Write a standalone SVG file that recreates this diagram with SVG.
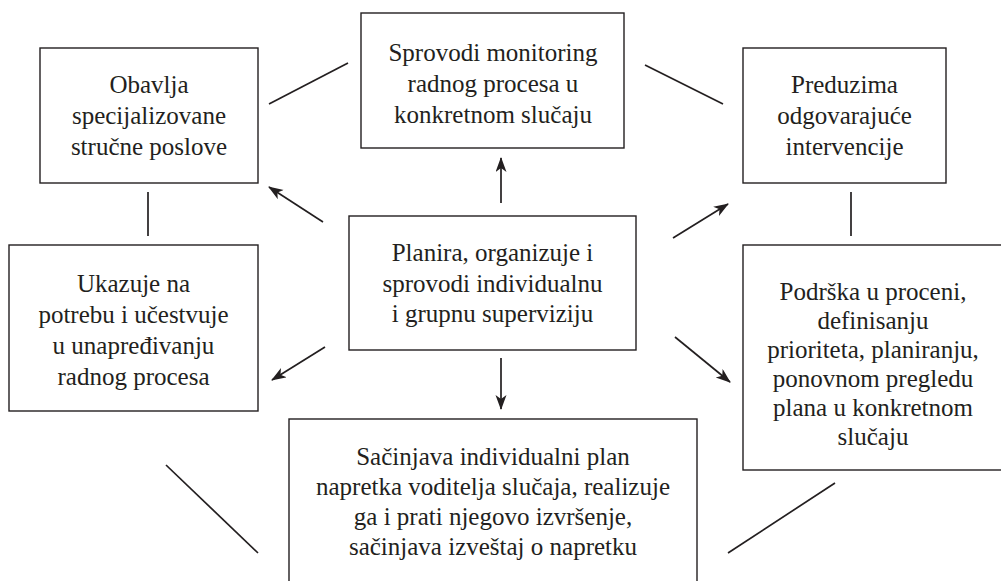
<svg xmlns="http://www.w3.org/2000/svg" width="1001" height="581" viewBox="0 0 1001 581">
<style>
.box{fill:#fff;stroke:#231f20;stroke-width:1.4}
.t{font-family:"Liberation Serif","Times New Roman",serif;font-size:25px;fill:#231f20;text-anchor:middle}
.c{stroke:#231f20;stroke-width:1.7;fill:none}
.a{stroke:#231f20;stroke-width:1.7;fill:none;marker-end:url(#ah)}
</style>
<defs>
<marker id="ah" markerUnits="userSpaceOnUse" markerWidth="17" markerHeight="12" refX="14" refY="5.5" orient="auto">
<path d="M0,0 L15,5.5 L0,11 L4,5.5 Z" fill="#231f20"/>
</marker>
</defs>
<rect width="1001" height="581" fill="#fff"/>
<g id="connectors">
<line class="c" x1="269" y1="104" x2="348" y2="63"/>
<line class="c" x1="645" y1="65" x2="723" y2="104"/>
<line class="c" x1="148" y1="192" x2="148" y2="236"/>
<line class="c" x1="851" y1="192" x2="851" y2="236"/>
<line class="c" x1="166" y1="465" x2="258" y2="553"/>
<line class="c" x1="728" y1="553" x2="835" y2="483"/>
<line class="a" x1="501" y1="203" x2="501" y2="158"/>
<line class="a" x1="501" y1="358" x2="501" y2="409"/>
<line class="a" x1="323" y1="222" x2="269" y2="187"/>
<line class="a" x1="325" y1="347" x2="272" y2="380"/>
<line class="a" x1="673" y1="238" x2="728" y2="204"/>
<line class="a" x1="675" y1="337" x2="730" y2="382"/>
</g>
<g id="obavlja">
<rect class="box" x="40" y="48" width="218" height="135"/>
<text class="t" x="149" y="93">Obavlja</text>
<text class="t" x="149" y="124">specijalizovane</text>
<text class="t" x="149" y="155">stručne poslove</text>
</g>
<g id="sprovodi">
<rect class="box" x="361" y="13" width="263" height="135"/>
<text class="t" x="493" y="61">Sprovodi monitoring</text>
<text class="t" x="493" y="92">radnog procesa u</text>
<text class="t" x="493" y="123">konkretnom slučaju</text>
</g>
<g id="preduzima">
<rect class="box" x="743" y="48" width="203" height="135"/>
<text class="t" x="844.5" y="93">Preduzima</text>
<text class="t" x="844.5" y="124">odgovarajuće</text>
<text class="t" x="844.5" y="155">intervencije</text>
</g>
<g id="ukazuje">
<rect class="box" x="9" y="245" width="249" height="166"/>
<text class="t" x="133.5" y="292">Ukazuje na</text>
<text class="t" x="133.5" y="323">potrebu i učestvuje</text>
<text class="t" x="133.5" y="354">u unapređivanju</text>
<text class="t" x="133.5" y="385">radnog procesa</text>
</g>
<g id="planira">
<rect class="box" x="349" y="216" width="287" height="134"/>
<text class="t" x="492.5" y="261">Planira, organizuje i</text>
<text class="t" x="492.5" y="292">sprovodi individualnu</text>
<text class="t" x="492.5" y="322">i grupnu superviziju</text>
</g>
<g id="podrska">
<rect class="box" x="743" y="245" width="262" height="225"/>
<text class="t" x="873" y="300">Podrška u proceni,</text>
<text class="t" x="873" y="329">definisanju</text>
<text class="t" x="873" y="358">prioriteta, planiranju,</text>
<text class="t" x="873" y="387">ponovnom pregledu</text>
<text class="t" x="873" y="416">plana u konkretnom</text>
<text class="t" x="873" y="445">slučaju</text>
</g>
<g id="sacinjava">
<rect class="box" x="289" y="419" width="408" height="175"/>
<text class="t" x="493" y="465">Sačinjava individualni plan</text>
<text class="t" x="493" y="495">napretka voditelja slučaja, realizuje</text>
<text class="t" x="493" y="525">ga i prati njegovo izvršenje,</text>
<text class="t" x="493" y="555">sačinjava izveštaj o napretku</text>
</g>
</svg>
